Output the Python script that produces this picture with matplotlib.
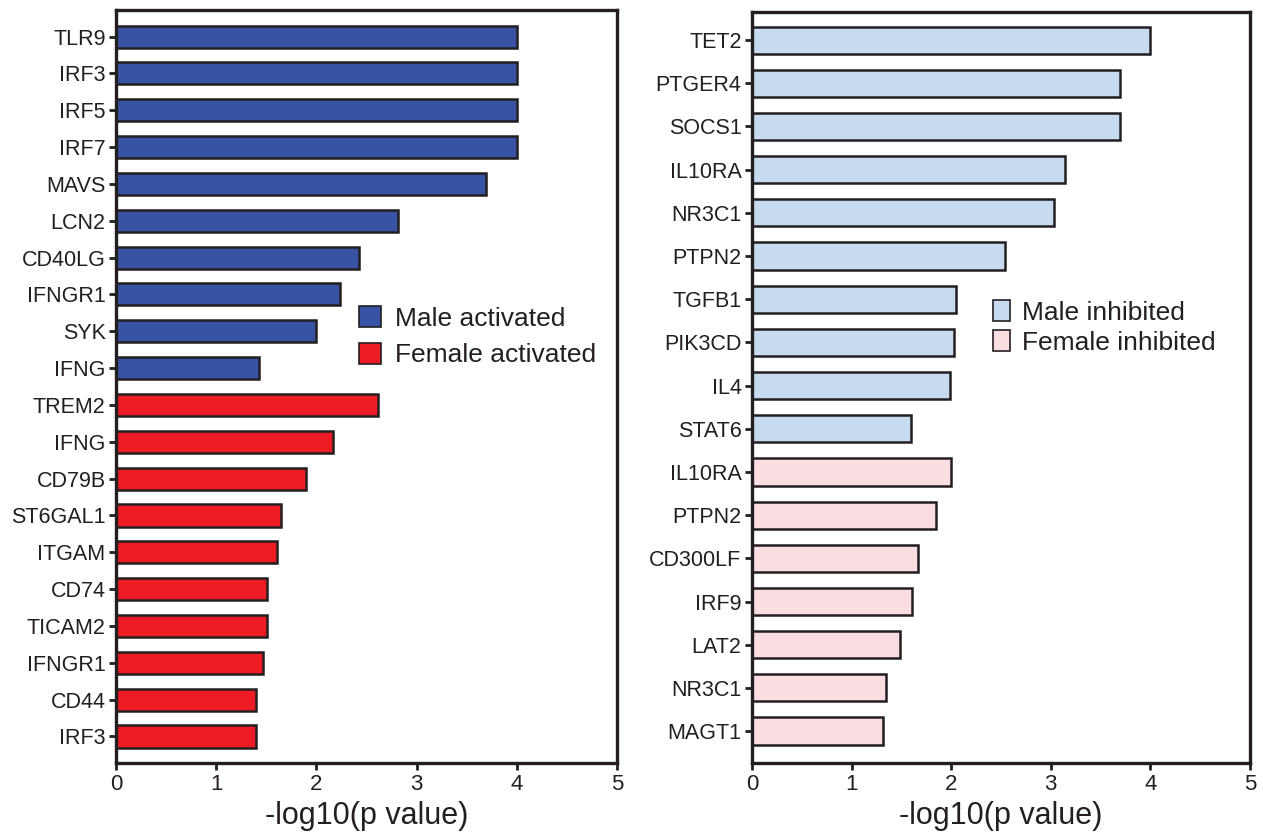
import matplotlib.pyplot as plt
from matplotlib.patches import Patch

plt.rcParams["font.family"] = ["Liberation Sans", "DejaVu Sans"]

# left panel: activated
male_act_genes = ["TLR9", "IRF3", "IRF5", "IRF7", "MAVS", "LCN2", "CD40LG", "IFNGR1", "SYK", "IFNG"]
male_act_vals = [4.0, 4.0, 4.0, 4.0, 3.69, 2.81, 2.43, 2.24, 2.0, 1.43]
female_act_genes = ["TREM2", "IFNG", "CD79B", "ST6GAL1", "ITGAM", "CD74", "TICAM2", "IFNGR1", "CD44", "IRF3"]
female_act_vals = [2.62, 2.17, 1.90, 1.65, 1.61, 1.51, 1.51, 1.47, 1.40, 1.40]

# right panel: inhibited
male_inh_genes = ["TET2", "PTGER4", "SOCS1", "IL10RA", "NR3C1", "PTPN2", "TGFB1", "PIK3CD", "IL4", "STAT6"]
male_inh_vals = [4.0, 3.69, 3.69, 3.14, 3.03, 2.54, 2.05, 2.03, 1.99, 1.60]
female_inh_genes = ["IL10RA", "PTPN2", "CD300LF", "IRF9", "LAT2", "NR3C1", "MAGT1"]
female_inh_vals = [2.0, 1.85, 1.67, 1.61, 1.49, 1.35, 1.32]

EDGE = "#231F20"

fig = plt.figure(figsize=(12.63, 8.36), dpi=100)
ax1 = fig.add_axes([0.0918, 0.0873, 0.3967, 0.9007])
ax2 = fig.add_axes([0.5954, 0.0873, 0.3943, 0.8983])


def panel(ax, genes_a, vals_a, genes_b, vals_b, col_a, col_b, height, ylim):
    genes = genes_a + genes_b
    vals = vals_a + vals_b
    colors = [col_a] * len(genes_a) + [col_b] * len(genes_b)
    pos = list(range(len(genes)))
    ax.barh(pos, vals, height=height, color=colors, edgecolor=EDGE, linewidth=1.8)
    ax.set_yticks(pos)
    ax.set_yticklabels(genes, fontsize=15.5)
    ax.set_ylim(*ylim)
    ax.set_xlim(0, 5)
    ax.set_xticks(range(6))
    ax.tick_params(axis="x", labelsize=16, length=5, width=2, pad=3, color=EDGE, labelcolor=EDGE)
    ax.tick_params(axis="y", length=5, width=2, pad=2.5, color=EDGE, labelcolor=EDGE)
    for s in ax.spines.values():
        s.set_linewidth(2.4)
        s.set_color(EDGE)
    ax.set_xlabel("-log10(p value)", fontsize=22, color=EDGE, labelpad=4)


panel(ax1, male_act_genes, male_act_vals, female_act_genes, female_act_vals,
      "#3953A4", "#ED1C24", 0.6, (19.72, -0.72))
panel(ax2, male_inh_genes, male_inh_vals, female_inh_genes, female_inh_vals,
      "#C6DBEF", "#FADDE1", 0.63, (16.74, -0.65))

h1 = [Patch(facecolor="#3953A4", edgecolor=EDGE, linewidth=1.2, label="Male activated"),
      Patch(facecolor="#ED1C24", edgecolor=EDGE, linewidth=1.2, label="Female activated")]
ax1.legend(handles=h1, loc="center left", bbox_to_anchor=(0.485, 0.566), frameon=False,
           fontsize=19, handlelength=0.85, handleheight=0.85, handletextpad=0.5,
           labelspacing=0.45, borderpad=0, borderaxespad=0, labelcolor=EDGE)

h2 = [Patch(facecolor="#C6DBEF", edgecolor=EDGE, linewidth=1.2, label="Male inhibited"),
      Patch(facecolor="#FADDE1", edgecolor=EDGE, linewidth=1.2, label="Female inhibited")]
ax2.legend(handles=h2, loc="center left", bbox_to_anchor=(0.484, 0.58), frameon=False,
           fontsize=19, handlelength=0.65, handleheight=0.85, handletextpad=0.45,
           labelspacing=0.2, borderpad=0, borderaxespad=0, labelcolor=EDGE)

fig.savefig("out.png", dpi=100)
